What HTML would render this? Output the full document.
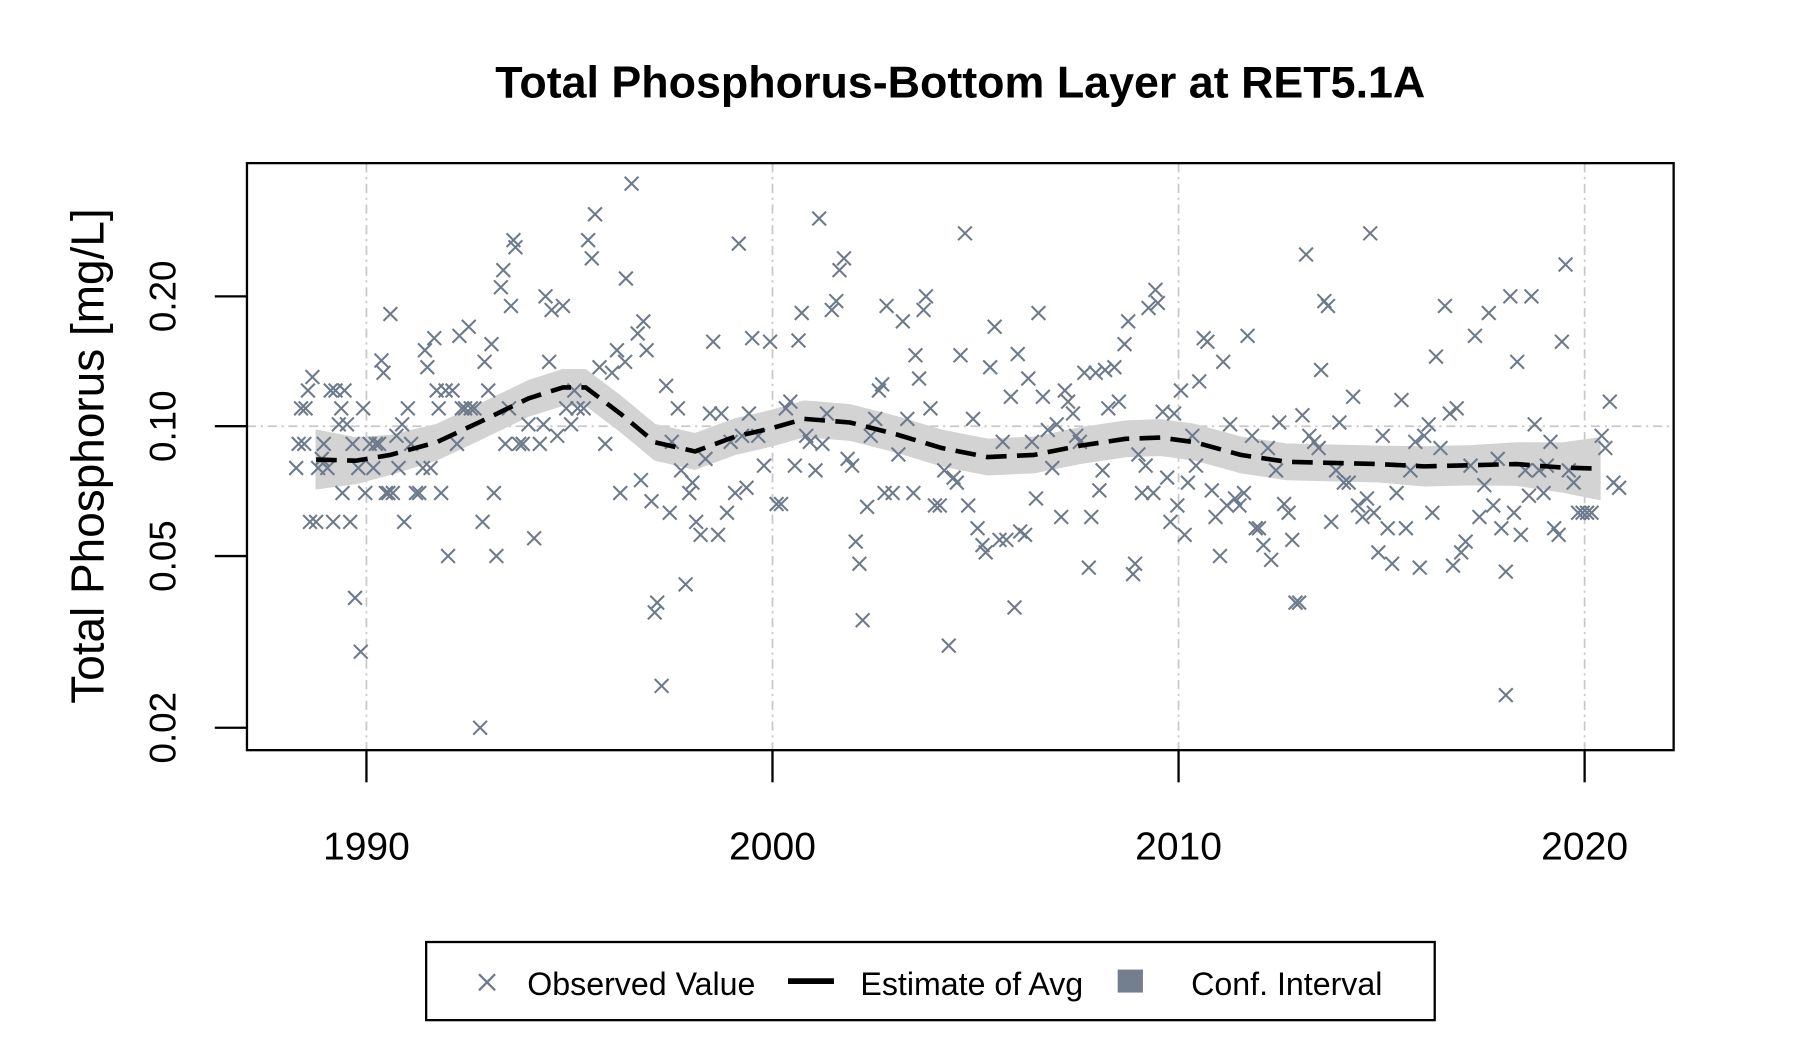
<!DOCTYPE html>
<html><head><meta charset="utf-8"><style>
html,body{margin:0;padding:0;background:#fff;}
svg{display:block;font-family:"Liberation Sans",Arial,sans-serif;}
</style></head><body>
<svg id="chart" width="1800" height="1050" viewBox="0 0 1567 914" preserveAspectRatio="none" xmlns="http://www.w3.org/2000/svg">
<rect x="0" y="0" width="1567" height="914" fill="#fff"/>
<text x="836" y="85" text-anchor="middle" font-size="39" font-weight="bold">Total Phosphorus-Bottom Layer at RET5.1A</text>
<g id="grid"></g>
<g id="band"></g>
<g id="points"></g>
<g id="trend"></g>
<rect x="215" y="142" width="1242" height="511" fill="none" stroke="#000" stroke-width="2"/>
<g id="xaxis"></g>
<g id="yaxis"></g>
<text transform="translate(90,397) rotate(-90)" text-anchor="middle" font-size="40">Total Phosphorus [mg/L]</text>
<g>
<rect x="371" y="820" width="878" height="68" fill="#fff" stroke="#000" stroke-width="2"/>
<g>
<path d="M417,848 L431,862 M431,848 L417,862" stroke="#6c7a8b" stroke-width="2"/>
<text x="459" y="866" font-size="28">Observed Value</text></g>
<g>
<line x1="686" y1="854" x2="726" y2="854" stroke="#000" stroke-width="5"/>
<text x="749" y="866" font-size="28">Estimate of Avg</text></g>
<g>
<rect x="973" y="844" width="22" height="20" fill="#737f8f"/>
<text x="1037" y="866" font-size="28">Conf. Interval</text></g>
</g>
</svg>
<script>
const obsYears=[1988.27,1988.33,1988.39,1988.47,1988.50,1988.56,1988.61,1988.67,1988.76,1988.81,1988.90,1988.95,1989.04,1989.12,1989.18,1989.24,1989.32,1989.38,1989.41,1989.46,1989.52,1989.60,1989.66,1989.72,1989.80,1989.86,1989.92,1989.97,1990.08,1990.17,1990.23,1990.31,1990.37,1990.42,1990.48,1990.54,1990.59,1990.65,1990.74,1990.79,1990.88,1990.93,1991.02,1991.10,1991.22,1991.30,1991.39,1991.44,1991.50,1991.58,1991.67,1991.73,1991.78,1991.84,1991.95,1992.01,1992.12,1992.23,1992.29,1992.35,1992.43,1992.52,1992.57,1992.66,
1992.80,1992.86,1992.91,1993.00,1993.08,1993.14,1993.20,1993.31,1993.37,1993.42,1993.51,1993.56,1993.62,1993.67,1993.76,1993.85,1993.99,1994.13,1994.27,1994.36,1994.41,1994.50,1994.56,1994.70,1994.84,1994.92,1995.04,1995.12,1995.20,1995.35,1995.46,1995.55,1995.63,1995.74,1995.88,1996.05,1996.17,1996.25,1996.37,1996.39,1996.53,1996.68,1996.76,1996.82,1996.90,1997.02,1997.10,1997.16,1997.27,1997.38,1997.47,1997.52,1997.67,1997.75,1997.86,1997.95,1998.03,1998.12,1998.23,1998.35,1998.46,1998.54,1998.66,1998.74,1998.88,1998.97,1999.08,1999.17,1999.25,1999.36,1999.42,1999.50,1999.65,1999.79,1999.94,
2000.10,2000.21,2000.33,2000.44,2000.55,2000.64,2000.72,2000.83,2000.92,2001.06,2001.15,2001.23,2001.34,2001.46,2001.57,2001.65,2001.76,2001.85,2001.96,2002.05,2002.14,2002.22,2002.33,2002.42,2002.53,2002.62,2002.70,2002.76,2002.81,2002.96,2003.10,2003.21,2003.32,2003.47,2003.52,2003.61,2003.72,2003.78,2003.89,2004.00,2004.12,2004.23,2004.34,2004.46,2004.54,2004.63,2004.74,2004.82,2004.94,2005.05,2005.17,2005.25,2005.36,2005.47,2005.59,2005.67,2005.76,2005.87,2005.96,2006.04,2006.10,2006.22,2006.30,2006.39,2006.49,2006.55,2006.66,2006.78,2006.89,2007.00,2007.11,2007.20,2007.28,2007.40,2007.48,2007.57,2007.68,2007.79,2007.85,2007.96,2008.05,2008.13,2008.19,2008.27,2008.42,2008.53,2008.67,2008.76,2008.88,2008.93,2009.01,2009.10,2009.19,2009.26,2009.38,2009.43,2009.49,2009.61,2009.72,2009.80,2009.89,2009.97,
2010.06,2010.15,2010.23,2010.34,2010.43,2010.51,2010.62,2010.71,2010.82,2010.91,2011.02,2011.10,2011.19,2011.27,2011.39,2011.50,2011.61,2011.70,2011.81,2011.90,2011.98,2012.09,2012.20,2012.28,2012.40,2012.48,2012.60,2012.71,2012.80,2012.88,2012.97,2013.05,2013.14,2013.22,2013.34,2013.45,2013.51,2013.59,2013.68,2013.76,2013.88,2013.96,2014.07,2014.19,2014.30,2014.42,2014.53,2014.64,2014.72,2014.81,2014.92,2015.03,2015.15,2015.26,2015.37,2015.49,2015.60,2015.71,2015.83,2015.94,2016.05,2016.16,2016.25,2016.34,2016.45,2016.56,2016.68,2016.76,2016.85,2016.96,2017.07,2017.19,2017.30,2017.41,2017.53,2017.64,2017.75,2017.86,2017.95,2018.06,2018.06,2018.17,2018.26,2018.34,2018.43,2018.54,2018.63,2018.69,2018.77,2018.88,2018.99,2019.07,2019.16,2019.25,2019.36,2019.44,2019.53,2019.61,2019.73,2019.84,2019.95,2020.06,2020.17,2020.42,2020.51,2020.62,2020.71,2020.85];
const obsValues=[0.080,0.091,0.110,0.091,0.110,0.121,0.060,0.130,0.060,0.080,0.084,0.091,0.080,0.121,0.060,0.121,0.101,0.110,0.070,0.121,0.101,0.060,0.091,0.040,0.080,0.030,0.110,0.070,0.091,0.080,0.091,0.091,0.142,0.133,0.070,0.070,0.182,0.070,0.095,0.080,0.101,0.060,0.110,0.091,0.070,0.070,0.080,0.150,0.137,0.080,0.160,0.121,0.110,0.070,0.121,0.050,0.121,0.091,0.162,0.110,0.110,0.170,0.110,0.110,
0.020,0.060,0.141,0.121,0.155,0.070,0.050,0.21,0.23,0.091,0.110,0.19,0.27,0.26,0.091,0.091,0.101,0.055,0.091,0.101,0.20,0.141,0.186,0.095,0.19,0.110,0.101,0.121,0.110,0.110,0.27,0.245,0.31,0.137,0.091,0.133,0.150,0.070,0.141,0.22,0.365,0.164,0.075,0.175,0.150,0.067,0.037,0.039,0.025,0.124,0.063,0.092,0.110,0.079,0.043,0.070,0.074,0.060,0.056,0.084,0.107,0.157,0.056,0.107,0.063,0.092,0.070,0.265,0.095,0.072,0.107,0.160,0.095,0.081,0.157,
0.066,0.066,0.110,0.114,0.081,0.158,0.183,0.095,0.092,0.079,0.303,0.091,0.107,0.186,0.195,0.23,0.245,0.084,0.081,0.054,0.048,0.0355,0.065,0.095,0.104,0.121,0.125,0.070,0.19,0.070,0.086,0.175,0.104,0.070,0.146,0.129,0.186,0.20,0.110,0.0655,0.0655,0.079,0.031,0.076,0.074,0.146,0.28,0.0655,0.104,0.058,0.053,0.051,0.137,0.170,0.0545,0.092,0.0545,0.117,0.038,0.147,0.057,0.056,0.129,0.092,0.068,0.183,0.117,0.098,0.080,0.101,0.0616,0.121,0.114,0.107,0.095,0.092,0.133,0.047,0.0616,0.133,0.071,0.079,0.135,0.110,0.137,0.114,0.155,0.175,0.0454,0.048,0.086,0.070,0.081,0.188,0.070,0.207,0.193,0.108,0.076,0.060,0.107,0.0655,
0.121,0.056,0.074,0.095,0.081,0.127,0.160,0.157,0.071,0.0616,0.050,0.141,0.0655,0.101,0.068,0.0655,0.070,0.162,0.095,0.058,0.058,0.053,0.089,0.049,0.079,0.102,0.066,0.063,0.0545,0.039,0.039,0.106,0.25,0.095,0.092,0.089,0.135,0.195,0.19,0.060,0.079,0.102,0.074,0.074,0.117,0.0655,0.0616,0.068,0.28,0.063,0.051,0.095,0.058,0.048,0.070,0.115,0.058,0.079,0.092,0.047,0.095,0.101,0.063,0.145,0.089,0.19,0.107,0.0475,0.110,0.051,0.054,0.081,0.162,0.0616,0.073,0.183,0.0655,0.084,0.058,0.046,0.0238,0.20,0.063,0.141,0.056,0.079,0.069,0.20,0.101,0.079,0.070,0.081,0.092,0.058,0.056,0.157,0.237,0.079,0.074,0.063,0.063,0.063,0.063,0.095,0.089,0.114,0.074,0.072];
const trendYears=[1988.76,1989.75,1990.59,1991.73,1992.86,1993.99,1994.84,1995.40,1996.25,1997.10,1998.09,1999.08,1999.99,2000.78,2001.91,2003.04,2004.17,2005.30,2006.44,2007.57,2008.70,2009.55,2010.40,2011.53,2012.66,2013.79,2014.92,2016.05,2017.19,2018.32,2019.45,2020.38];
const trendValues=[0.0837,0.0832,0.0858,0.0918,0.103,0.116,0.123,0.123,0.107,0.0918,0.0874,0.0946,0.099,0.104,0.102,0.0958,0.089,0.0848,0.0858,0.0901,0.0935,0.0941,0.0918,0.0858,0.0827,0.0822,0.0817,0.0807,0.0812,0.0817,0.0802,0.0797];
const ciFactor=[1.17,1.13,1.11,1.10,1.10,1.10,1.10,1.10,1.10,1.10,1.10,1.10,1.10,1.10,1.10,1.10,1.10,1.10,1.10,1.10,1.10,1.10,1.10,1.10,1.10,1.10,1.10,1.11,1.11,1.12,1.14,1.18];
const xTicks=[1990,2000,2010,2020];
const yTicks=[0.02,0.05,0.10,0.20];
const yTickLabels=["0.02","0.05","0.10","0.20"];
const yGrid=[0.10];

const NS="http://www.w3.org/2000/svg";
function xs(yr){return 319+(yr-1990)*35.35;}
function ys(v){return 371-Math.log10(v/0.1)*375.5;}
function mk(tag,attrs,parent){const e=document.createElementNS(NS,tag);for(const k in attrs)e.setAttribute(k,attrs[k]);parent.appendChild(e);return e;}

const grid=document.getElementById('grid');
xTicks.forEach(t=>{
  const l=mk('line',{x1:xs(t),x2:xs(t),y1:142,y2:653,stroke:'#c8c8c8','stroke-width':1.5,'stroke-dasharray':'8,4,2,4'},grid);
  
  
});
yGrid.forEach(t=>{
  const l=mk('line',{x1:215,x2:1457,y1:ys(t),y2:ys(t),stroke:'#c8c8c8','stroke-width':1.5,'stroke-dasharray':'8,4,2,4'},grid);
  
  
});

const band=document.getElementById('band');
let up=trendYears.map((y,i)=>xs(y)+','+ys(trendValues[i]*ciFactor[i]));
let lo=trendYears.map((y,i)=>xs(y)+','+ys(trendValues[i]/ciFactor[i])).reverse();
const poly=mk('polygon',{points:up.concat(lo).join(' '),fill:'#d3d3d3',stroke:'#d3d3d3','stroke-width':1,'stroke-linejoin':'round'},band);



const pts=document.getElementById('points');
obsYears.forEach((y,i)=>{
  const cx=xs(y),cy=ys(obsValues[i]),s=6;
  const p=mk('path',{d:`M${cx-s},${cy-s} L${cx+s},${cy+s} M${cx+s},${cy-s} L${cx-s},${cy+s}`,stroke:'#6c7a8b','stroke-width':1.8,fill:'none'},pts);
  
  
});

const trend=document.getElementById('trend');
const tp=mk('polyline',{points:trendYears.map((y,i)=>xs(y)+','+ys(trendValues[i])).join(' '),fill:'none',stroke:'#000','stroke-width':4,'stroke-dasharray':'18,9','stroke-linejoin':'round'},trend);



const xa=document.getElementById('xaxis');
xTicks.forEach(t=>{
  const l=mk('line',{x1:xs(t),x2:xs(t),y1:653,y2:681,stroke:'#000','stroke-width':2},xa);
  
  
  const tx=mk('text',{x:xs(t),y:748,'text-anchor':'middle','font-size':34},xa);
  tx.textContent=String(t);
  
  
});
const ya=document.getElementById('yaxis');
yTicks.forEach((t,i)=>{
  const l=mk('line',{x1:187,x2:215,y1:ys(t),y2:ys(t),stroke:'#000','stroke-width':2},ya);
  
  
  const tx=mk('text',{transform:`translate(153,${ys(t)}) rotate(-90)`,'text-anchor':'middle','font-size':32},ya);
  tx.textContent=yTickLabels[i];
  
  
});
</script>
</body></html>
